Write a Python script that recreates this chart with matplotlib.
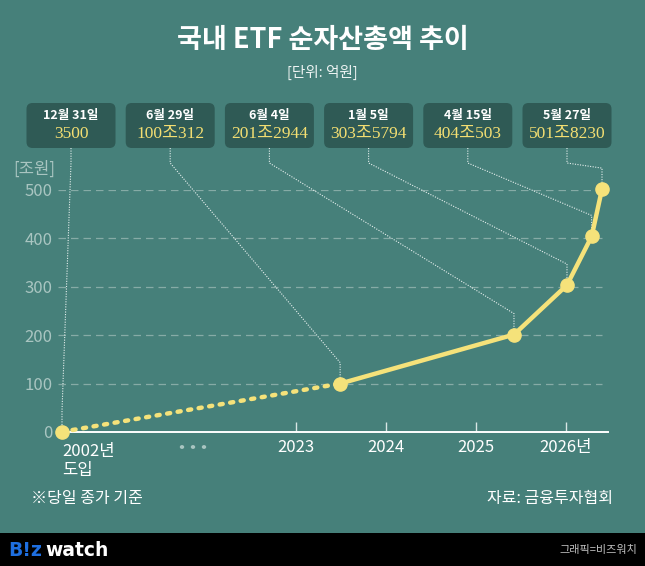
import matplotlib
matplotlib.use("Agg")
import matplotlib.pyplot as plt
from matplotlib.patches import FancyBboxPatch, Rectangle
from datetime import date

plt.rcParams['font.family'] = ['Noto Sans CJK KR', 'DejaVu Sans']

# ---------------- data ----------------
dates = ["2002-12-31", "2023-06-29", "2025-06-04", "2026-01-05", "2026-04-15", "2026-05-27"]
values = [0.35, 100.0312, 201.2944, 303.5794, 404.0503, 501.8230]   # 조원
box_dates = ["12월 31일", "6월 29일", "6월 4일", "1월 5일", "4월 15일", "5월 27일"]
box_values = ["3500", "100조312", "201조2944", "303조5794", "404조503", "501조8230"]
year_ticks = [2023, 2024, 2025, 2026]
year_labels = ["2023", "2024", "2025", "2026년"]
yticks = [0, 100, 200, 300, 400, 500]
first_label = "2002년\n도입"

BG = "#46807A"
BOX = "#2F5A55"
YEL = "#F5E27A"
VAL = "#F3DE72"
GRID = "#86ABA6"
TICKC = "#A9C5C1"

W, H = 645, 566
fig = plt.figure(figsize=(W / 100, H / 100), dpi=100, facecolor=BG)

def fx(x):
    return x / W

def fy(y):
    return 1 - y / H

# axes in pixel layout
x0_px, x1_px = 58, 608
y0_px, y1_px = 432, 190
ax = fig.add_axes([fx(x0_px), fy(y0_px), (x1_px - x0_px) / W, (y0_px - y1_px) / H])
ax.set_facecolor(BG)
for s in ax.spines.values():
    s.set_visible(False)

REF_YEAR, REF_PX, PX_PER_YEAR = 2023, 296, 90
ax.set_xlim(REF_YEAR + (x0_px - REF_PX) / PX_PER_YEAR, REF_YEAR + (x1_px - REF_PX) / PX_PER_YEAR)
ax.set_ylim(0, 500)
BREAK_POS = REF_YEAR + (62 - REF_PX) / PX_PER_YEAR   # position of the pre-break point


def to_x(dstr):
    d = date.fromisoformat(dstr)
    if d.year < REF_YEAR:
        return BREAK_POS
    start = date(d.year, 1, 1)
    n = (date(d.year + 1, 1, 1) - start).days
    return d.year + (d - start).days / n

xs = [to_x(d) for d in dates]

# gridlines
for yv in yticks[1:]:
    ax.plot([ax.get_xlim()[0], xs[-1]], [yv, yv], color=GRID, lw=0.9,
            dashes=(6, 4), zorder=1)

# axis line and ticks
ax.plot([xs[0], ax.get_xlim()[1]], [0, 0], color="white", lw=1.4, zorder=2, clip_on=False)
ax.set_xticks(year_ticks)
ax.set_xticklabels(year_labels, color="white", fontsize=12)
ax.tick_params(axis='x', direction='in', length=7, width=1, color="#d8e6e4", pad=5)
ax.set_yticks(yticks)
ax.set_yticklabels([str(v) for v in yticks], color=TICKC, fontsize=12)
ax.tick_params(axis='y', length=0, pad=4)
ax.text(-0.005, 1.085, "[조원]", transform=ax.transAxes, ha='right', va='center',
        color=TICKC, fontsize=12)

# first label and break dots
ax.text(xs[0], -0.045 * 500, first_label, ha='left', va='top', color="white",
        fontsize=12, linespacing=1.2, clip_on=False)
for dx in (182, 193, 204):
    fig.patches.append(plt.Circle((fx(dx), fy(447)), 2.2 / W, transform=fig.transFigure,
                                  facecolor=TICKC, edgecolor='none'))

# series: dotted then solid
ax.plot(xs[:2], values[:2], color=YEL, lw=3.2, dashes=(0.7, 1.7),
        dash_capstyle='round', zorder=3, clip_on=False)
ax.plot(xs[1:], values[1:], color=YEL, lw=3.2, solid_capstyle='round', zorder=3, clip_on=False)
ax.plot(xs, values, 'o', color=YEL, ms=9.5, zorder=4, clip_on=False)

# annotation boxes + leaders
inv = ax.transData.inverted()

def px2data(xp, yp):
    return inv.transform((xp, H - yp))

box_cx0, box_step, box_w, box_h, box_top = 71, 99.2, 89, 45, 103
for i, (bd, bv) in enumerate(zip(box_dates, box_values)):
    cx = box_cx0 + i * box_step
    fig.patches.append(FancyBboxPatch((fx(cx - box_w / 2 + 6), fy(box_top + box_h - 6)),
                                      (box_w - 12) / W, (box_h - 12) / H,
                                      boxstyle="round,pad=0.0093", transform=fig.transFigure,
                                      facecolor=BOX, edgecolor='none', mutation_aspect=W / H))
    fig.text(fx(cx), fy(box_top + 13), bd, ha='center', va='center', color='white',
             fontsize=9, fontweight='bold')
    fig.text(fx(cx), fy(box_top + 31), bv, ha='center', va='center', color=VAL,
             fontsize=12.5, family=['Liberation Serif', 'Noto Sans CJK KR'])
    # leader line
    px_pt = ax.transData.transform((xs[i], values[i]))
    ptx, pty = px_pt[0], H - px_pt[1]
    pts_px = [(cx, box_top + box_h), (cx, 163), (ptx, pty - 21), (ptx, pty)]
    pts = [px2data(a, b) for a, b in pts_px]
    ax.plot([p[0] for p in pts], [p[1] for p in pts], color="#e6efee", lw=0.8,
            ls=(0, (1, 1.3)), zorder=2.5, clip_on=False)

# title
fig.text(0.5, fy(40), "국내 ETF 순자산총액 추이", ha='center', va='center', color='white',
         fontsize=19.5, fontweight='bold')
fig.text(0.5, fy(72), "[단위: 억원]", ha='center', va='center', color='#eef4f3', fontsize=10.5)

# footnotes
fig.text(fx(31), fy(498), "※당일 종가 기준", ha='left', va='center', color='white', fontsize=11.5)
fig.text(fx(613), fy(498), "자료: 금융투자협회", ha='right', va='center', color='white', fontsize=11.5)

# bottom bar
fig.patches.append(Rectangle((0, 0), 1, (H - 533) / H, transform=fig.transFigure,
                             facecolor='black', edgecolor='none'))
fig.text(fx(8), fy(550), "B!z", ha='left', va='center', color='#1E6FE0', fontsize=13.5,
         fontweight='bold', family=['DejaVu Sans'])
fig.text(fx(45), fy(550), "watch", ha='left', va='center', color='white', fontsize=13.5,
         fontweight='bold', family=['DejaVu Sans'])
fig.text(fx(637), fy(550), "그래픽=비즈워치", ha='right', va='center', color='#bfbfbf', fontsize=8)

fig.savefig("out.png", dpi=100, facecolor=BG)
